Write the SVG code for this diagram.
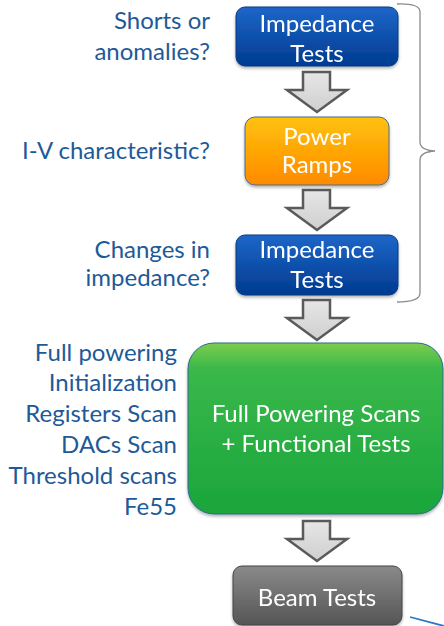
<svg xmlns="http://www.w3.org/2000/svg" width="444" height="626" viewBox="0 0 444 626">
  <defs>
    <linearGradient id="gBlue" x1="0" y1="0" x2="0" y2="1">
      <stop offset="0" stop-color="#1d66c8"/>
      <stop offset="1" stop-color="#003b90"/>
    </linearGradient>
    <linearGradient id="gOrange" x1="0" y1="0" x2="0" y2="1">
      <stop offset="0" stop-color="#ffc20a"/>
      <stop offset="1" stop-color="#ff8a00"/>
    </linearGradient>
    <linearGradient id="gGreen" x1="0" y1="0" x2="0" y2="1">
      <stop offset="0" stop-color="#7ccd4e"/>
      <stop offset="0.15" stop-color="#3ab84a"/>
      <stop offset="1" stop-color="#1aa53c"/>
    </linearGradient>
    <linearGradient id="gGray" x1="0" y1="0" x2="0" y2="1">
      <stop offset="0" stop-color="#8a8a8a"/>
      <stop offset="1" stop-color="#555555"/>
    </linearGradient>
    <linearGradient id="gArrow" x1="0" y1="0" x2="0" y2="1">
      <stop offset="0" stop-color="#e6e6e6"/>
      <stop offset="1" stop-color="#cfcfcf"/>
    </linearGradient>
    <filter id="shadow" x="-10%" y="-10%" width="120%" height="130%">
      <feDropShadow dx="0" dy="2" stdDeviation="1.5" flood-color="#000" flood-opacity="0.3"/>
    </filter>
    <path id="arrowShape" d="M-14,0 H13 V18 H30 L0,40 L-30,18 H-14 Z"/>
  </defs>
  <style>
    .q { font-family: "Lato", "Open Sans", sans-serif; font-size: 24px; fill: #1e5a98; text-anchor: end; }
    .t { font-family: "Lato", "Open Sans", sans-serif; font-size: 24px; fill: #ffffff; text-anchor: middle; }
    .arrow { fill: url(#gArrow); stroke: #5a5a5a; stroke-width: 2.5; stroke-linejoin: miter; }
    .brace { fill: none; stroke: #8c8c8c; stroke-width: 1.3; }
  </style>

  <rect width="444" height="626" fill="#ffffff"/>

  <!-- questions and checks listed on the left -->
  <g id="labels">
    <text class="q" x="210" y="29">Shorts or</text>
    <text class="q" x="210" y="60">anomalies?</text>
    <text class="q" x="210" y="159">I-V characteristic?</text>
    <text class="q" x="210" y="258">Changes in</text>
    <text class="q" x="210" y="286">impedance?</text>
    <text class="q" x="177" y="361">Full powering</text>
    <text class="q" x="177" y="391">Initialization</text>
    <text class="q" x="177" y="422">Registers Scan</text>
    <text class="q" x="177" y="453">DACs Scan</text>
    <text class="q" x="177" y="484">Threshold scans</text>
    <text class="q" x="177" y="515">Fe55</text>
  </g>

  <!-- block arrows between steps -->
  <g id="connectors">
    <use href="#arrowShape" class="arrow" transform="translate(317,72)"/>
    <use href="#arrowShape" class="arrow" transform="translate(317,190)"/>
    <use href="#arrowShape" class="arrow" transform="translate(317,300)"/>
    <use href="#arrowShape" class="arrow" transform="translate(317,521)"/>
    <path class="brace" d="M397,4 Q420,3 420,12 V142 Q420,150 435,151 Q420,152 420,160 V293 Q420,302 397,302"/>
    <line x1="410" y1="617" x2="444" y2="626" stroke="#2a78c8" stroke-width="1.8"/>
  </g>

  <g id="impedance1" filter="url(#shadow)">
    <rect x="236" y="7" width="162" height="59" rx="9" fill="url(#gBlue)" stroke="#0b3b80" stroke-width="1"/>
    <text class="t" x="317" y="32">Impedance</text>
    <text class="t" x="317" y="62">Tests</text>
  </g>

  <g id="powerRamps" filter="url(#shadow)">
    <rect x="245" y="117" width="144" height="68" rx="10" fill="url(#gOrange)" stroke="#4f6b8a" stroke-width="1"/>
    <text class="t" x="317" y="145">Power</text>
    <text class="t" x="317" y="173">Ramps</text>
  </g>

  <g id="impedance2" filter="url(#shadow)">
    <rect x="236" y="235" width="162" height="60" rx="9" fill="url(#gBlue)" stroke="#0b3b80" stroke-width="1"/>
    <text class="t" x="317" y="258">Impedance</text>
    <text class="t" x="317" y="288">Tests</text>
  </g>

  <g id="fullPowering" filter="url(#shadow)">
    <rect x="188" y="343" width="255" height="171" rx="26" fill="url(#gGreen)" stroke="#2b6a8c" stroke-width="1"/>
    <text class="t" x="316" y="422">Full Powering Scans</text>
    <text class="t" x="316" y="452">+ Functional Tests</text>
  </g>

  <g id="beamTests" filter="url(#shadow)">
    <rect x="233" y="566" width="169" height="59" rx="9" fill="url(#gGray)" stroke="#444" stroke-width="1"/>
    <text class="t" x="317" y="606">Beam Tests</text>
  </g>
</svg>
